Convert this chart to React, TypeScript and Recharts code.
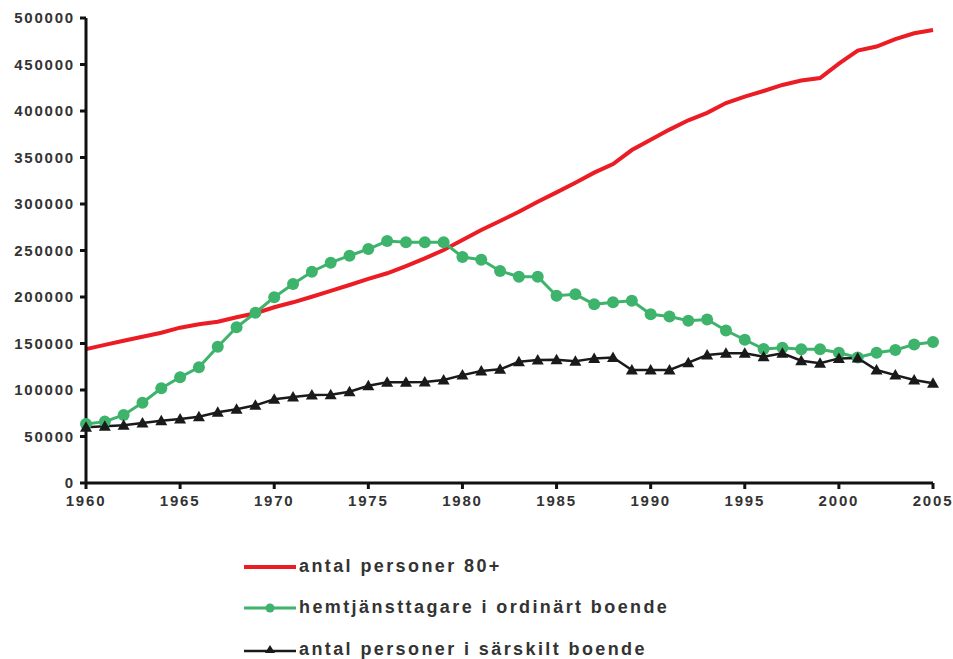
import { LineChart, Line, XAxis, YAxis } from "recharts";

const years = [
  1960, 1961, 1962, 1963, 1964, 1965, 1966, 1967, 1968, 1969,
  1970, 1971, 1972, 1973, 1974, 1975, 1976, 1977, 1978, 1979,
  1980, 1981, 1982, 1983, 1984, 1985, 1986, 1987, 1988, 1989,
  1990, 1991, 1992, 1993, 1994, 1995, 1996, 1997, 1998, 1999,
  2000, 2001, 2002, 2003, 2004, 2005,
];

// antal personer 80+
const persons80 = [
  144000, 148500, 153000, 157300, 161600, 167000, 170600, 173400, 178200, 182500,
  189000, 194300, 200300, 206500, 212900, 219400, 225500, 233300, 241600, 250500,
  261300, 272000, 281700, 291700, 302500, 312500, 322900, 333700, 343000, 358000,
  369000, 380000, 390000, 398000, 408500, 415400, 421500, 428000, 432800, 435500,
  451000, 465000, 469300, 477200, 483600, 487100,
];

// hemtjänsttagare i ordinärt boende
const homeCare = [
  63500, 66000, 73100, 86300, 101800, 113700, 124400, 146600, 167400, 183100,
  199700, 214000, 227200, 236900, 244400, 251600, 260200, 258800, 258800, 258800,
  243000, 240000, 228000, 221800, 221800, 201400, 202900, 192100, 194300, 196000,
  181400, 179000, 174500, 175800, 164000, 154000, 144000, 145500, 143700, 143700,
  140000, 135000, 140000, 143000, 149000, 151600,
];

// antal personer i särskilt boende
const specialHousing = [
  60000, 61000, 62000, 64500, 67000, 68800, 71300, 76000, 79200, 83500,
  90000, 92500, 94600, 94800, 98200, 104600, 108300, 108300, 108600, 110700,
  116000, 120400, 122200, 130400, 132300, 132500, 130800, 134000, 135000, 121500,
  121500, 121500, 129400, 137600, 139400, 139400, 135800, 139400, 131500, 128700,
  134000, 134500, 121500, 116000, 110700, 107200,
];

const xTicks = [1960, 1965, 1970, 1975, 1980, 1985, 1990, 1995, 2000, 2005];
const yTicks = [0, 50000, 100000, 150000, 200000, 250000, 300000, 350000, 400000, 450000, 500000];

const seriesNames = [
  "antal personer 80+",
  "hemtjänsttagare i ordinärt boende",
  "antal personer i särskilt boende",
];

const data = years.map((year, i) => ({
  year,
  persons80: persons80[i],
  homeCare: homeCare[i],
  specialHousing: specialHousing[i],
}));

const RED = "#ec1c24";
const GREEN = "#3db36b";
const BLACK = "#1a1a1a";

const tickStyle = {
  fill: "#333",
  fontSize: 15,
  fontWeight: 700,
  fontFamily: "Liberation Sans, Arial, sans-serif",
  letterSpacing: 1.8,
};

function TriangleDot(props: any) {
  const { cx, cy, index } = props;
  if (cx == null || cy == null) return null;
  const s = 6;
  return (
    <polygon
      key={"tri-" + index}
      points={`${cx},${cy - s} ${cx - s},${cy + s * 0.75} ${cx + s},${cy + s * 0.75}`}
      fill={BLACK}
    />
  );
}

function LegendRow({ kind, label, top }: { kind: number; label: string; top: number }) {
  return (
    <div style={{ position: "absolute", left: 243, top, display: "flex", alignItems: "center" }}>
      <svg width={56} height={20}>
        {kind === 0 && <line x1={1} y1={10} x2={53} y2={10} stroke={RED} strokeWidth={4} />}
        {kind === 1 && (
          <>
            <line x1={1} y1={10} x2={53} y2={10} stroke={GREEN} strokeWidth={3} />
            <circle cx={27} cy={10} r={4.5} fill={GREEN} />
          </>
        )}
        {kind === 2 && (
          <>
            <line x1={1} y1={11} x2={53} y2={11} stroke={BLACK} strokeWidth={2.5} />
            <polygon points="27,5 22,13 32,13" fill={BLACK} />
          </>
        )}
      </svg>
      <span
        style={{
          fontFamily: "Liberation Sans, Arial, sans-serif",
          fontSize: 18,
          fontWeight: 700,
          color: "#333",
          letterSpacing: 2.4,
          whiteSpace: "nowrap",
        }}
      >
        {label}
      </span>
    </div>
  );
}

export default function App() {
  return (
    <div style={{ position: "absolute", left: 0, top: 0, width: 953, height: 659, background: "#fff" }}>
      <LineChart
        width={953}
        height={659}
        data={data}
        margin={{ top: 18, right: 20, left: 0, bottom: 146 }}
      >
        <XAxis
          dataKey="year"
          type="number"
          domain={[1960, 2005]}
          ticks={xTicks}
          tick={tickStyle}
          tickSize={6}
          tickMargin={6}
          height={30}
          axisLine={{ stroke: "#111", strokeWidth: 3 }}
          tickLine={{ stroke: "#111", strokeWidth: 3 }}
        />
        <YAxis
          domain={[0, 500000]}
          ticks={yTicks}
          tick={tickStyle}
          width={86}
          tickSize={6}
          tickMargin={5}
          interval={0}
          axisLine={{ stroke: "#111", strokeWidth: 3 }}
          tickLine={{ stroke: "#111", strokeWidth: 3 }}
        />
        <Line
          type="linear"
          dataKey="persons80"
          name={seriesNames[0]}
          stroke={RED}
          strokeWidth={4}
          dot={false}
          isAnimationActive={false}
        />
        <Line
          type="linear"
          dataKey="homeCare"
          name={seriesNames[1]}
          stroke={GREEN}
          strokeWidth={3}
          dot={{ r: 6, fill: GREEN, stroke: "none" }}
          isAnimationActive={false}
        />
        <Line
          type="linear"
          dataKey="specialHousing"
          name={seriesNames[2]}
          stroke={BLACK}
          strokeWidth={2.5}
          dot={TriangleDot}
          isAnimationActive={false}
        />
      </LineChart>
      <LegendRow kind={0} label={seriesNames[0]} top={556} />
      <LegendRow kind={1} label={seriesNames[1]} top={597} />
      <LegendRow kind={2} label={seriesNames[2]} top={639} />
    </div>
  );
}
